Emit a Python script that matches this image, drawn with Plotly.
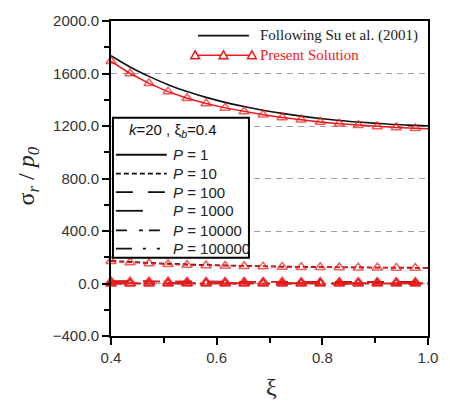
import plotly.graph_objects as go

# Radial position xi (marker stations), last point closes the curve at xi = 1.0
xi = [0.4, 0.436, 0.472, 0.508, 0.544, 0.58, 0.616, 0.652, 0.688,
      0.724, 0.76, 0.796, 0.832, 0.868, 0.904, 0.94, 0.976, 1.0]

p_values = ["1", "10", "100", "1000", "10000", "100000"]

# sigma_r / p0, following Su et al. (2001)
su_p1 = [1735, 1650, 1578, 1515, 1462, 1418, 1380, 1348, 1320,
         1296, 1275, 1257, 1242, 1230, 1220, 1211, 1205, 1201]
su_p10 = [173.5, 165.0, 157.8, 151.5, 146.2, 141.8, 138.0, 134.8, 132.0,
          129.6, 127.5, 125.7, 124.2, 123.0, 122.0, 121.1, 120.5, 120.1]
su_p100 = [17.4, 16.5, 15.8, 15.2, 14.6, 14.2, 13.8, 13.5, 13.2,
           13.0, 12.8, 12.6, 12.4, 12.3, 12.2, 12.1, 12.1, 12.0]
su_p1000 = [1.74, 1.65, 1.58, 1.52, 1.46, 1.42, 1.38, 1.35, 1.32,
            1.30, 1.28, 1.26, 1.24, 1.23, 1.22, 1.21, 1.21, 1.20]
su_p10000 = [0.17, 0.17, 0.16, 0.15, 0.15, 0.14, 0.14, 0.13, 0.13,
             0.13, 0.13, 0.13, 0.12, 0.12, 0.12, 0.12, 0.12, 0.12]
su_p100000 = [0.02, 0.02, 0.02, 0.02, 0.01, 0.01, 0.01, 0.01, 0.01,
              0.01, 0.01, 0.01, 0.01, 0.01, 0.01, 0.01, 0.01, 0.01]

# sigma_r / p0, present solution
ps_p1 = [1693, 1600, 1525, 1462, 1412, 1372, 1338, 1310, 1286,
         1265, 1247, 1231, 1217, 1206, 1196, 1188, 1182, 1179]
ps_p10 = [169.3, 160.0, 152.5, 146.2, 141.2, 137.2, 133.8, 131.0, 128.6,
          126.5, 124.7, 123.1, 121.7, 120.6, 119.6, 118.8, 118.2, 117.9]
ps_p100 = [16.9, 16.0, 15.3, 14.6, 14.1, 13.7, 13.4, 13.1, 12.9,
           12.7, 12.5, 12.3, 12.2, 12.1, 12.0, 11.9, 11.8, 11.8]
ps_p1000 = [1.69, 1.60, 1.53, 1.46, 1.41, 1.37, 1.34, 1.31, 1.29,
            1.27, 1.25, 1.23, 1.22, 1.21, 1.20, 1.19, 1.18, 1.18]
ps_p10000 = [0.17, 0.16, 0.15, 0.15, 0.14, 0.14, 0.13, 0.13, 0.13,
             0.13, 0.12, 0.12, 0.12, 0.12, 0.12, 0.12, 0.12, 0.12]
ps_p100000 = [0.02, 0.02, 0.02, 0.01, 0.01, 0.01, 0.01, 0.01, 0.01,
              0.01, 0.01, 0.01, 0.01, 0.01, 0.01, 0.01, 0.01, 0.01]

su_series = [su_p1, su_p10, su_p100, su_p1000, su_p10000, su_p100000]
ps_series = [ps_p1, ps_p10, ps_p100, ps_p1000, ps_p10000, ps_p100000]

# line style per P
dashes = ["solid", "5px,3px", "17px,15px", "27px,30px",
          "11px,12px,4px,6px", "16px,11px,3px,11px,3px,11px"]

RED = "#f01818"
SERIF = "Liberation Serif, Times New Roman, serif"
SANS = "Liberation Sans, Arial, sans-serif"

fig = go.Figure()

for ys, d in zip(su_series, dashes):
    fig.add_trace(go.Scatter(x=xi, y=ys, mode="lines", line_shape="spline",
                             line=dict(color="#111111", width=1.6, dash=d),
                             showlegend=False, cliponaxis=False))

marker_sizes = [9] * (len(xi) - 1) + [0]
for ys, d in zip(ps_series, dashes):
    fig.add_trace(go.Scatter(x=xi, y=ys, mode="lines+markers",
                             line=dict(color=RED, width=1.5, dash=d),
                             marker=dict(symbol="triangle-up-open", size=marker_sizes,
                                         color=RED, line=dict(width=1.5, color=RED)),
                             showlegend=False, cliponaxis=False))

# plot area in pixels: x 111..435, y 14..336
def px(v):
    return (v - 111) / 324.0


def py(v):
    return (336 - v) / 322.0


shapes = []
annotations = []

# legend for the two solution families (top right)
shapes.append(dict(type="line", xref="paper", yref="paper", x0=px(200), x1=px(252),
                   y0=py(29), y1=py(29), line=dict(color="#111111", width=1.8)))
annotations.append(dict(xref="paper", yref="paper", x=px(261), y=py(29),
                        xanchor="left", yanchor="middle", showarrow=False,
                        text="Following Su et al. (2001)",
                        font=dict(family=SERIF, size=15, color="#222222")))
shapes.append(dict(type="line", xref="paper", yref="paper", x0=px(197), x1=px(255),
                   y0=py(49), y1=py(49), line=dict(color=RED, width=1.6)))
for cx in (197, 226, 255):
    shapes.append(dict(type="path", xref="paper", yref="paper",
                       path="M {},{} L {},{} L {},{} Z".format(
                           px(cx - 4.5), py(52.5), px(cx + 4.5), py(52.5), px(cx), py(44.5)),
                       line=dict(color=RED, width=1.5), fillcolor="white"))
annotations.append(dict(xref="paper", yref="paper", x=px(261), y=py(49),
                        xanchor="left", yanchor="middle", showarrow=False,
                        text="Present Solution",
                        font=dict(family=SERIF, size=15, color=RED)))

# boxed legend for the P values
shapes.append(dict(type="rect", xref="paper", yref="paper", x0=px(113), x1=px(252),
                   y0=py(256), y1=py(113), line=dict(color="black", width=2),
                   fillcolor="white", layer="above"))
annotations.append(dict(xref="paper", yref="paper", x=px(174), y=py(126),
                        xanchor="center", yanchor="middle", showarrow=False,
                        text="<i>k</i>=20 , ξ<sub><i>b</i></sub>=0.4",
                        font=dict(family=SANS, size=15, color="#111111")))
row_y = [150.7, 170, 189, 208, 228, 246.7]
for ry, d, p in zip(row_y, dashes, p_values):
    shapes.append(dict(type="line", xref="paper", yref="paper", x0=px(116), x1=px(168),
                       y0=py(ry), y1=py(ry), layer="above",
                       line=dict(color="#111111", width=1.8, dash=d)))
    annotations.append(dict(xref="paper", yref="paper", x=px(172), y=py(ry),
                            xanchor="left", yanchor="middle", showarrow=False,
                            text="<i>P</i> = " + p,
                            font=dict(family=SANS, size=15, color="#222222")))

# axis titles
annotations.append(dict(xref="paper", yref="paper", x=px(26), y=py(172),
                        xanchor="center", yanchor="middle", showarrow=False, textangle=-90,
                        text="σ<sub><i>r</i></sub> / <i>p</i><sub><i>0</i></sub>",
                        font=dict(family=SERIF, size=24, color="#222222")))
annotations.append(dict(xref="paper", yref="paper", x=px(275), y=py(388),
                        xanchor="center", yanchor="middle", showarrow=False,
                        text="ξ", font=dict(family=SERIF, size=24, color="#222222")))

axis_common = dict(showline=True, linewidth=2, linecolor="black", mirror=True,
                   ticks="outside", ticklen=7, tickwidth=2, tickcolor="black",
                   tickfont=dict(family=SANS, size=15, color="#333333"),
                   zeroline=False)

fig.update_layout(
    width=450, height=407,
    margin=dict(l=111, r=15, t=14, b=71),
    paper_bgcolor="white", plot_bgcolor="white",
    xaxis=dict(range=[0.4, 1.0], dtick=0.2, tick0=0.4, tickformat=".1f",
               showgrid=False,
               minor=dict(dtick=0.1, ticks="outside", ticklen=5, tickwidth=2,
                          tickcolor="black", showgrid=False),
               **axis_common),
    yaxis=dict(range=[-400, 2000], dtick=400, tick0=0, tickformat=".1f",
               showgrid=True, gridcolor="#a0a0a0", gridwidth=1, griddash="6px,5px",
               minor=dict(dtick=200, ticks="outside", ticklen=5, tickwidth=2,
                          tickcolor="black", showgrid=False),
               **axis_common),
    shapes=shapes,
    annotations=annotations,
)

fig.write_html("out.html")
